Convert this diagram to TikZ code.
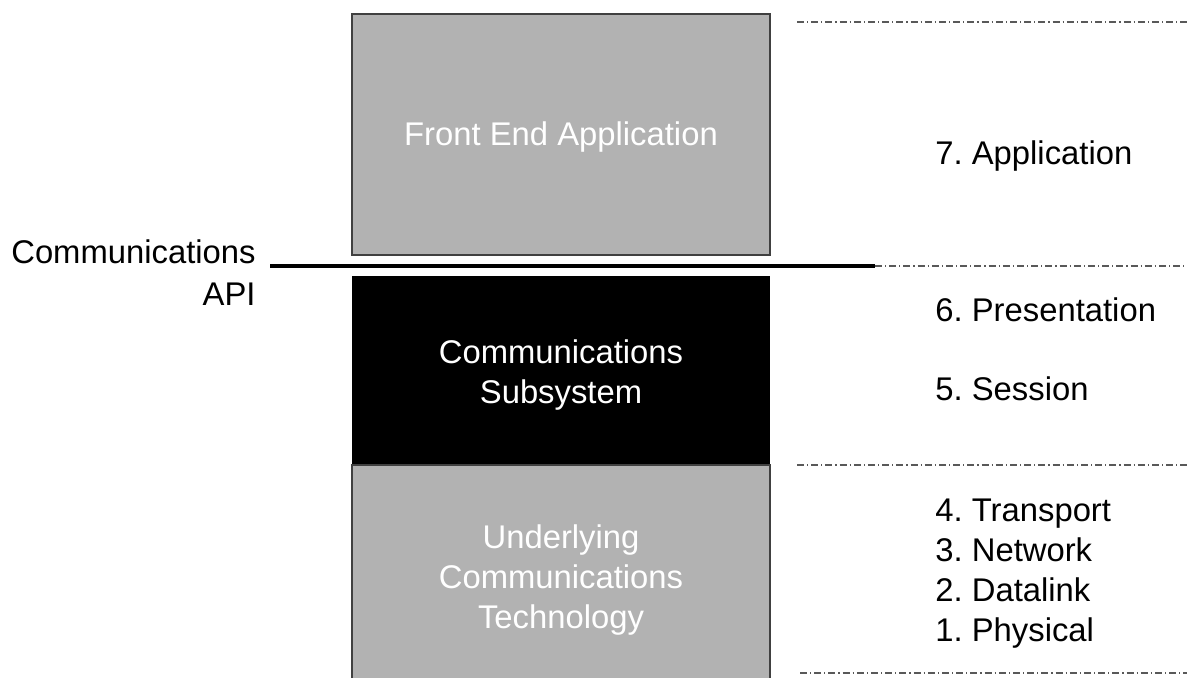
\documentclass[tikz,border=0pt]{standalone}
\usepackage{fontspec}
\setmainfont{Liberation Sans}
\frenchspacing

\begin{document}
\begin{tikzpicture}[x=0.5pt,y=-0.5pt,
    box/.style={draw=black!75,line width=1pt,fill=black!30},
    boxtext/.style={text=white,align=center,font=\fontsize{16.4}{20}\selectfont},
    layertext/.style={anchor=base west,inner sep=0pt,font=\fontsize{16.4}{20}\selectfont},
    sep/.style={black!65,line width=0.6pt,dash pattern=on 3.5pt off 1.5pt on 0.6pt off 1.5pt}]
      \useasboundingbox (0,0) rectangle (1187,677);
      % the three blocks
      \draw[box] (352,14) rectangle (770,255);
      \fill[black] (352,276) rectangle (770,465);
      \draw[box] (352,465) rectangle (770,700);
      \node[boxtext] (front) at (561,137) {Front End Application};
      \node[boxtext] (subsys) at (561,375) {Communications\\Subsystem};
      \node[boxtext] (tech) at (561,580) {Underlying\\Communications\\Technology};
      % api line
      \coordinate (apil) at (270,266);
      \coordinate (apir) at (875,266);
      \draw[line width=1.6pt] (apil) -- (apir);
      \node[anchor=east,align=right,inner sep=0pt,font=\fontsize{16.4}{21}\selectfont] (api)
        at (256,273) {Communications\\API};
      % layer borders
      \draw[sep] (797,22) -- (1187,22);
      \draw[sep] (apir) -- (1187,266);
      \draw[sep] (797,465) -- (1187,465);
      \draw[sep] (800,673) -- (1187,673);
      % osi layers
      \node[layertext] (l7) at (935,164) {7. Application};
      \node[layertext] (l6) at (935,321) {6. Presentation};
      \node[layertext] (l5) at (935,400) {5. Session};
      \foreach \n/\name [count=\i] in {4/Transport,3/Network,2/Datalink,1/Physical}
        \node[layertext] (l\n) at (935,481+40*\i) {\n. \name};
\end{tikzpicture}
\end{document}
